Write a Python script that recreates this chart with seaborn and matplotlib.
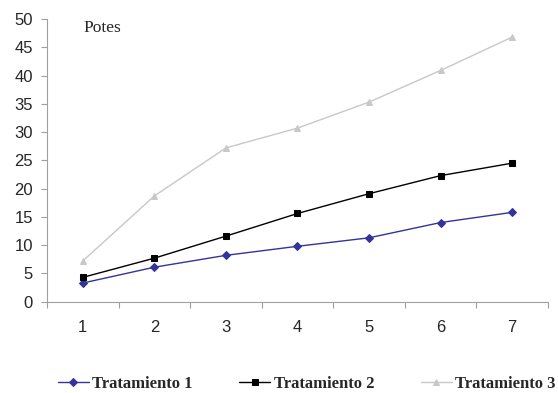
import matplotlib
matplotlib.use("Agg")
import matplotlib.pyplot as plt
import seaborn as sns
import pandas as pd
from matplotlib.ticker import FixedLocator, NullFormatter

# Weekly measurements for the three treatments
semanas = [1, 2, 3, 4, 5, 6, 7]
tratamiento_1 = [3.3, 6.1, 8.2, 9.8, 11.3, 14.0, 15.8]
tratamiento_2 = [4.3, 7.7, 11.6, 15.6, 19.1, 22.3, 24.5]
tratamiento_3 = [7.2, 18.7, 27.2, 30.7, 35.3, 40.9, 46.8]
series = ["Tratamiento 1", "Tratamiento 2", "Tratamiento 3"]

df = pd.DataFrame({
    "semana": semanas * 3,
    "valor": tratamiento_1 + tratamiento_2 + tratamiento_3,
    "serie": [s for s in series for _ in semanas],
})

sns.set_style("white")
plt.rcParams["font.family"] = ["Liberation Sans", "DejaVu Sans"]

fig = plt.figure(figsize=(5.58, 3.93), dpi=100)
ax = fig.add_axes([0.0842, 0.2323, 0.8978, 0.7194])

colores = {"Tratamiento 1": "#333399", "Tratamiento 2": "#000000", "Tratamiento 3": "#c8c8c8"}
marcadores = {"Tratamiento 1": "D", "Tratamiento 2": "s", "Tratamiento 3": "^"}
tamanos = {"Tratamiento 1": 4.5, "Tratamiento 2": 5.5, "Tratamiento 3": 6}

for s in series:
    sub = df[df["serie"] == s]
    sns.lineplot(data=sub, x="semana", y="valor", ax=ax, color=colores[s],
                 marker=marcadores[s], markersize=tamanos[s], markeredgecolor=colores[s],
                 linewidth=1.0, label=s, legend=False)

ax.set_xlim(0.5, 7.5)
ax.set_ylim(0, 50)
ax.set_xlabel("")
ax.set_ylabel("")

# Category axis: tick marks between categories, labels centred on them
ax.xaxis.set_major_locator(FixedLocator([x + 0.5 for x in range(0, 8)]))
ax.xaxis.set_major_formatter(NullFormatter())
ax.xaxis.set_minor_locator(FixedLocator(semanas))
ax.set_xticklabels([str(s) for s in semanas], minor=True)
ax.tick_params(axis="x", which="major", direction="out", length=4, width=0.8, color="#a0a0a0", bottom=True)
ax.tick_params(axis="x", which="minor", length=0, pad=13, labelsize=12, bottom=True)

ax.set_yticks(range(0, 51, 5))
ax.tick_params(axis="y", direction="out", length=4, width=0.8, color="#a0a0a0", pad=6, labelsize=12, left=True)

for side in ["top", "right"]:
    ax.spines[side].set_visible(False)
for side in ["left", "bottom"]:
    ax.spines[side].set_color("#a0a0a0")
    ax.spines[side].set_linewidth(0.8)

ax.text(0.072, 0.995, "Potes", transform=ax.transAxes, ha="left", va="top",
        fontfamily="Liberation Serif", fontsize=12.5)

handles, labels = ax.get_legend_handles_labels()
for h in handles:
    h.set_markersize(4)
fig.legend(handles, labels, loc="center", bbox_to_anchor=(0.550, 0.023), ncol=3,
           frameon=False, handlelength=1.86, handletextpad=0.2, columnspacing=2.8,
           prop={"family": "Liberation Serif", "weight": "bold", "size": 12})

fig.savefig("out.png", dpi=100)
